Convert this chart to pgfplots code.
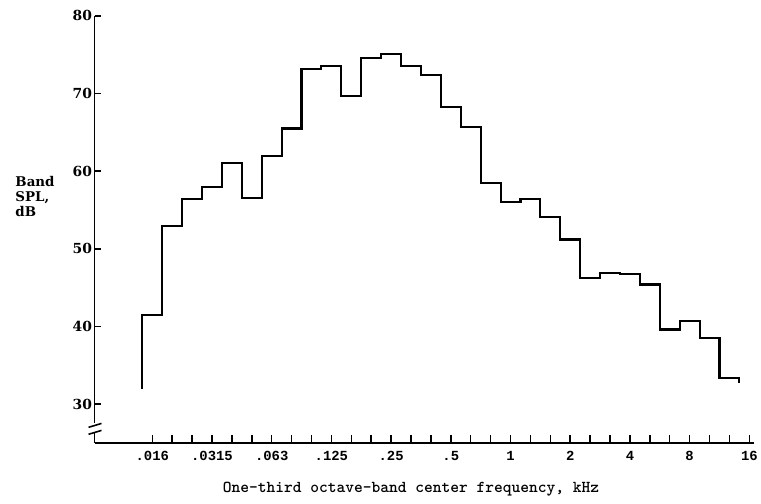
\documentclass[border=0pt]{standalone}
\usepackage{pgfplots}
\pgfplotsset{compat=1.18}
\usepackage{fontspec}
\setmainfont{DejaVu Serif}
\newfontfamily\tickfont{Liberation Mono}
\begin{document}
\begin{tikzpicture}
\begin{axis}[
  scale only axis,
  width=663bp, height=429bp,
  xmin=-2.9, xmax=30.25,
  ymin=25, ymax=80,
  axis x line=bottom, axis y line=left,
  axis line style={-, line width=1.9pt},
  tick align=inside,
  xtick={0,...,30},
  xticklabels={.016,,,.0315,,,.063,,,.125,,,.25,,,.5,,,1,,,2,,,4,,,8,,,16},
  ytick={30,40,50,60,70,80},
  xtick style={line width=1.5pt, black, /pgfplots/major tick length=7.5bp},
  ytick style={line width=1.5pt, black, /pgfplots/major tick length=6bp},
  xticklabel style={font=\tickfont\bfseries\fontsize{14}{16}\selectfont, yshift=-5bp},
  yticklabel style={font=\bfseries\fontsize{14}{15}\selectfont, xshift=1bp},
  /pgf/number format/assume math mode=true,
  clip=false,
]
\addplot[const plot mark left, black, line width=2.1pt, line join=miter] coordinates {
(-0.5,32.0) (-0.5,41.5) (0.5,52.9) (1.5,56.4) (2.5,58.0) (3.5,61.0)
(4.5,56.5) (5.5,62.0) (6.5,65.5) (7.5,73.2) (8.5,73.5) (9.5,69.7)
(10.5,74.6) (11.5,75.1) (12.5,73.6) (13.5,72.4) (14.5,68.3) (15.5,65.7)
(16.5,58.5) (17.5,56.0) (18.5,56.4) (19.5,54.1) (20.5,51.2) (21.5,46.2)
(22.5,46.9) (23.5,46.8) (24.5,45.4) (25.5,39.6) (26.5,40.7) (27.5,38.5)
(28.5,33.3) (29.5,32.7)
};
% axis break
\fill[white] (axis cs:-3.2,27.55) rectangle (axis cs:-2.6,26.45);
\draw[line width=1.6pt] (axis cs:-3.2,27.0) -- (axis cs:-2.55,27.5);
\draw[line width=1.6pt] (axis cs:-3.2,26.1) -- (axis cs:-2.55,26.6);
% labels
\node[anchor=west, align=left, font=\bfseries\fontsize{13.5}{15}\selectfont] at (axis cs:-7.05,56.7) {Band\\SPL,\\dB};
\node[font=\ttfamily\bfseries\fontsize{16.8}{20}\selectfont] at (axis cs:13.0,19.0) {One-third octave-band center frequency, kHz};
% bounding box
\path (axis cs:-7.65,17.18) rectangle (axis cs:30.4,82.05);
\end{axis}
\end{tikzpicture}
\end{document}
